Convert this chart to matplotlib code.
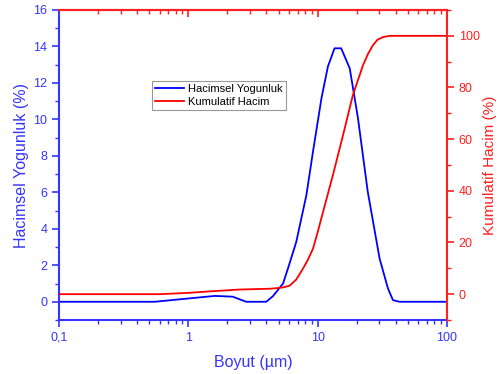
import numpy as np
import matplotlib
matplotlib.use("Agg")
import matplotlib.pyplot as plt
from matplotlib.ticker import LogLocator, FixedLocator, MultipleLocator, FuncFormatter

plt.rcParams['font.family'] = ['Liberation Sans', 'DejaVu Sans']

# Hacimsel yogunluk (sol eksen)
size_density = [0.1, 0.55, 1.0, 1.6, 2.2, 2.8, 4.0, 4.5, 5.4, 6.0, 6.84, 8.18, 9.2,
                10.7, 12.0, 13.5, 15.2, 17.7, 20.5, 24.4, 30.1, 34.9, 38.2, 43.0, 100.0]
density = [0, 0, 0.18, 0.32, 0.28, 0, 0, 0.3, 1.0, 2.0, 3.3, 5.85, 8.23,
           11.16, 12.9, 13.9, 13.9, 12.8, 10.06, 6.03, 2.38, 0.74, 0.09, 0.0, 0.0]

# Kumulatif hacim (sag eksen)
size_cum = [0.1, 0.6, 1.0, 1.6, 2.5, 4.26, 5.0, 5.5, 6.08, 6.84, 7.7, 8.4, 9.2, 10.0, 11.0,
            13.1, 15.7, 18.7, 22.4, 24.5, 26.7, 29.0, 31.9, 36.0, 100.0]
cumulative = [0, 0, 0.5, 1.2, 1.8, 2.1, 2.4, 2.7, 3.3, 5.7, 9.9, 13.3, 17.6, 24.0, 31.8,
              46.0, 61.5, 77.0, 88.6, 93.0, 96.3, 98.5, 99.5, 100, 100]

blue = '#0000ff'
red = '#ff0000'
axblue = '#3535ff'
axred = '#ff2020'

fig = plt.figure(figsize=(4.99, 3.74), dpi=100)
ax = fig.add_axes([59 / 499, 1 - 320 / 374, (447 - 59) / 499, (320 - 10) / 374])
ax2 = ax.twinx()

l1, = ax.plot(size_density, density, color=blue, lw=1.3, label='Hacimsel Yogunluk')
l2, = ax2.plot(size_cum, cumulative, color=red, lw=1.3, label='Kumulatif Hacim')

ax.set_xscale('log')
ax.set_xlim(0.1, 100)
ax.set_ylim(-1, 16)
ax2.set_ylim(-10, 110)

ax.xaxis.set_major_locator(FixedLocator([0.1, 1, 10, 100]))
ax.xaxis.set_major_formatter(FuncFormatter(lambda v, p: '0,1' if v < 0.5 else '%d' % v))
ax.xaxis.set_minor_locator(LogLocator(base=10, subs=np.arange(2, 10)))
ax.xaxis.set_minor_formatter(FuncFormatter(lambda v, p: ''))
ax.yaxis.set_major_locator(FixedLocator([0, 2, 4, 6, 8, 10, 12, 14, 16]))
ax.yaxis.set_minor_locator(MultipleLocator(1))
ax2.yaxis.set_major_locator(FixedLocator([0, 20, 40, 60, 80, 100]))
ax2.yaxis.set_minor_locator(MultipleLocator(10))

for s in ['top', 'right']:
    ax.spines[s].set_visible(False)
for s in ['left', 'bottom']:
    ax2.spines[s].set_visible(False)
ax.spines['left'].set_color(axblue)
ax.spines['bottom'].set_color(axblue)
ax2.spines['right'].set_color(axred)
ax2.spines['top'].set_color(axred)
for s in ax.spines.values():
    s.set_linewidth(1.5)
for s in ax2.spines.values():
    s.set_linewidth(1.5)

ax.tick_params(axis='both', which='major', direction='out', length=5, width=1.2,
               color=axblue, labelcolor=axblue, labelsize=9)
ax.tick_params(axis='both', which='minor', direction='out', length=3, width=1.0, color=axblue)
ax2.tick_params(axis='y', which='major', direction='out', length=5, width=1.2,
                color=axred, labelcolor=axred, labelsize=9)
ax2.tick_params(axis='y', which='minor', direction='out', length=3, width=1.0, color=axred)

# ust eksen: kirmizi, iceri bakan tikler
top = ax.secondary_xaxis('top')
top.set_xscale('log')
top.xaxis.set_major_locator(FixedLocator([0.1, 1, 10, 100]))
top.xaxis.set_minor_locator(LogLocator(base=10, subs=np.arange(2, 10)))
top.tick_params(which='major', direction='in', length=5, width=1.2, color=axred, labeltop=False)
top.tick_params(which='minor', direction='in', length=3, width=1.0, color=axred)
top.spines['top'].set_color(axred)
top.spines['top'].set_linewidth(1.5)

ax.set_xlabel('Boyut (µm)', color=axblue, fontsize=11.5, labelpad=8)
ax.set_ylabel('Hacimsel Yogunluk (%)', color=axblue, fontsize=11.5, labelpad=3)
ax2.set_ylabel('Kumulatif Hacim (%)', color=axred, fontsize=11, labelpad=2)

leg = ax2.legend(handles=[l1, l2], loc='upper left', bbox_to_anchor=(152 / 499, 1 - 81 / 374),
                 bbox_transform=fig.transFigure, fontsize=8, fancybox=False, framealpha=1,
                 edgecolor='#999999', handlelength=2.6, borderpad=0.3, labelspacing=0.2,
                 handletextpad=0.3, borderaxespad=0)
leg.get_frame().set_linewidth(0.8)

fig.savefig('out.png', dpi=100)
